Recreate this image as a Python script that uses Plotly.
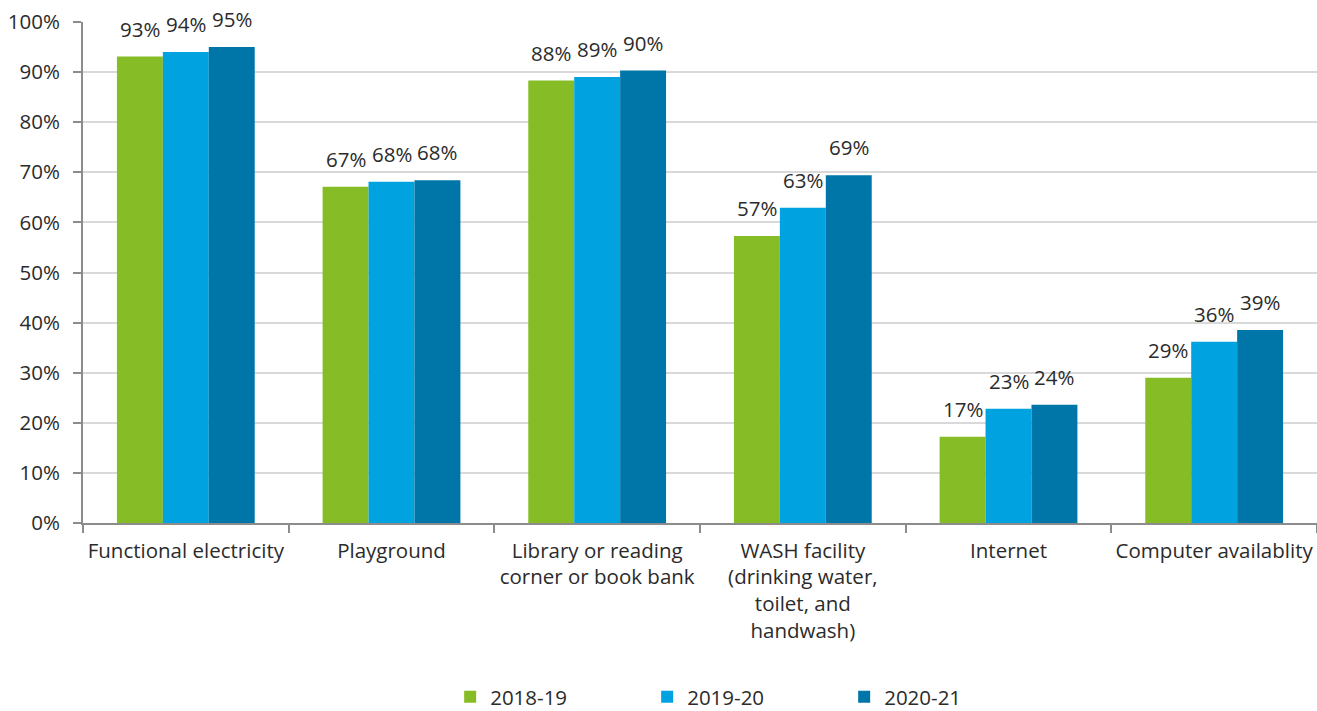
import plotly.graph_objects as go

categories = ["Functional electricity", "Playground", "Library or reading<br>corner or book bank",
              "WASH facility<br>(drinking water,<br>toilet, and<br>handwash)", "Internet", "Computer availablity"]
series_names = ["2018-19", "2019-20", "2020-21"]
values_2018 = [93.1, 67.1, 88.3, 57.3, 17.2, 29.0]
values_2019 = [94.0, 68.1, 89.0, 62.9, 22.8, 36.2]
values_2020 = [95.0, 68.4, 90.3, 69.4, 23.6, 38.5]
labels_2018 = ["93%", "67%", "88%", "57%", "17%", "29%"]
labels_2019 = ["94%", "68%", "89%", "63%", "23%", "36%"]
labels_2020 = ["95%", "68%", "90%", "69%", "24%", "39%"]
colors = ["#86BC25", "#00A3E0", "#0076A8"]

all_values = [values_2018, values_2019, values_2020]
all_labels = [labels_2018, labels_2019, labels_2020]

FONT = "Open Sans"
FS = 20.5
TXT = "#2b2b2b"
fig = go.Figure()
for name, vals, col in zip(series_names, all_values, colors):
    fig.add_trace(go.Bar(x=categories, y=vals, name=name, marker=dict(color=col, line=dict(width=0)),
                         hoverinfo="skip"))

bar_px = (1317 - 83) / 6 * (1 - 0.33) / 3
for i, (vals, labs) in enumerate(zip(all_values, all_labels)):
    for c, v, t in zip(categories, vals, labs):
        fig.add_annotation(x=c, y=v, text=t, showarrow=False, xanchor="center", yanchor="bottom",
                           xshift=(i - 1) * bar_px, yshift=12,
                           font=dict(family=FONT, size=FS, color=TXT))

fig.update_layout(
    barmode="group", bargap=0.33, bargroupgap=0,
    width=1317, height=711,
    margin=dict(l=83, r=0, t=22, b=188, autoexpand=False),
    plot_bgcolor="white", paper_bgcolor="white",
    font=dict(family=FONT, size=FS, color=TXT),
    legend=dict(orientation="h", x=0.537, xanchor="center", y=-0.347, yanchor="middle",
                font=dict(family=FONT, size=FS, color=TXT), traceorder="normal",
                itemwidth=30, entrywidth=152),
    xaxis=dict(showline=True, linecolor="#8c8c8c", linewidth=2, ticks="outside", tickson="boundaries",
               ticklen=8, tickcolor="#8c8c8c", tickwidth=2, tickfont=dict(size=FS), automargin=False,
               ticklabelstandoff=8, tickangle=0),
    yaxis=dict(range=[0, 100], dtick=10, ticksuffix="%", showline=True, linecolor="#8c8c8c", linewidth=2,
               ticks="outside", ticklen=8, tickcolor="#8c8c8c", tickwidth=2, gridcolor="#d9d9d9",
               gridwidth=1.5, zeroline=False, tickfont=dict(size=FS), automargin=False,
               ticklabelstandoff=9),
)

fig.write_html("out.html", config={"displayModeBar": False},
               post_script="document.body.style.margin='0';document.body.style.overflow='hidden';")
